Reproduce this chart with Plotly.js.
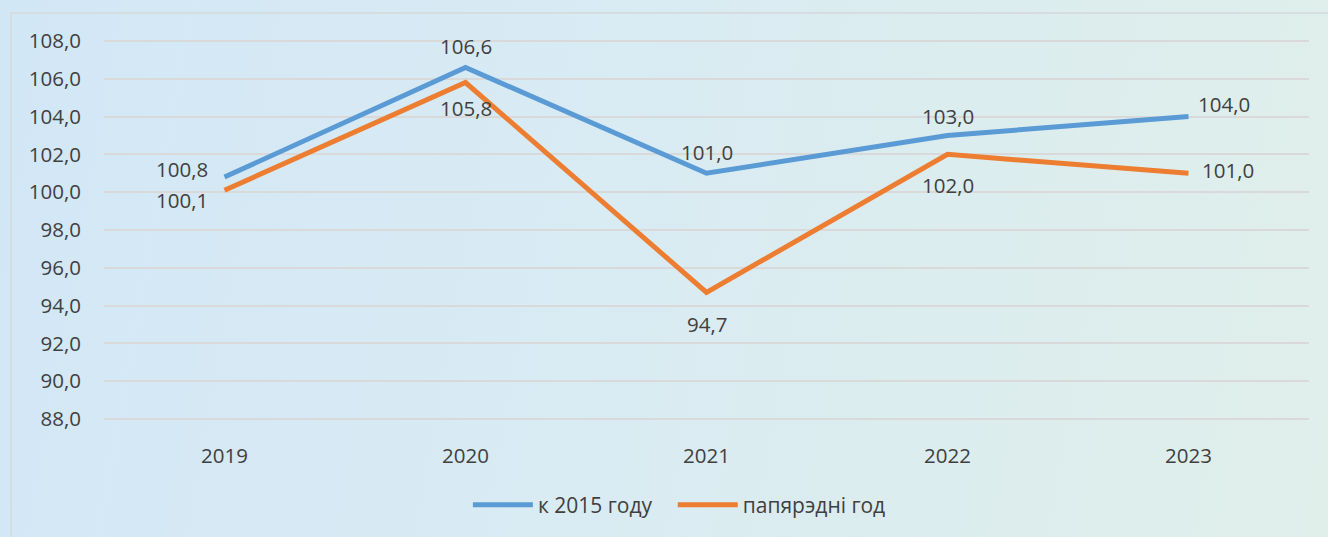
<!DOCTYPE html>
<html>
<head>
<meta charset="utf-8">
<script src="https://cdn.plot.ly/plotly-3.0.1.min.js"></script>
<style>
html,body{margin:0;padding:0;width:1328px;height:537px;overflow:hidden;}
body{background:linear-gradient(100deg,#d2e7f6 0%,#d9ebf3 45%,#e0efea 100%);}
#frame{position:absolute;left:10px;top:12px;width:1340px;height:560px;border:2px solid #d6dde0;box-sizing:border-box;}
#chart{position:absolute;left:0;top:0;width:1328px;height:537px;}
</style>
</head>
<body>
<div id="frame"></div>
<div id="chart"></div>
<script>
var years = ['2019','2020','2021','2022','2023'];
var seriesA = [100.8, 106.6, 101.0, 103.0, 104.0];
var seriesB = [100.1, 105.8, 94.7, 102.0, 101.0];
var nameA = 'к 2015 году';
var nameB = 'папярэдні год';
var yTicks = [88,90,92,94,96,98,100,102,104,106,108];

function fmt(v){ return v.toFixed(1).replace('.', ','); }

function mkFont(s){ return {family:'"Open Sans", sans-serif', size:s || 20.5, color:'#404040'}; }

var traces = [
  {x:years, y:seriesA, name:nameA, type:'scatter', mode:'lines', legend:'legend',
   line:{color:'#5b9bd5', width:5}, hoverinfo:'skip'},
  {x:years, y:seriesB, name:nameB, type:'scatter', mode:'lines', legend:'legend2',
   line:{color:'#ed7d31', width:5}, hoverinfo:'skip'}
];

// label placement offsets (pixels) for each point
var offA = [[-15,8,'right'],[0,21,'center'],[0,21,'center'],[0,19,'center'],[7,13,'left']];
var offB = [[-15,-10,'right'],[0,-25,'center'],[0,-32,'center'],[0,-31,'center'],[11,3,'left']];
var ann = [];
for (var i = 0; i < years.length; i++) {
  ann.push({x:i, y:seriesA[i], xref:'x', yref:'y', text:fmt(seriesA[i]), showarrow:false,
    xanchor:offA[i][2], yanchor:'middle', xshift:offA[i][0], yshift:offA[i][1], font:mkFont()});
  ann.push({x:i, y:seriesB[i], xref:'x', yref:'y', text:fmt(seriesB[i]), showarrow:false,
    xanchor:offB[i][2], yanchor:'middle', xshift:offB[i][0], yshift:offB[i][1], font:mkFont()});
}

var layout = {
  width:1328, height:537,
  margin:{l:104, r:19, t:39, b:113},
  paper_bgcolor:'rgba(0,0,0,0)', plot_bgcolor:'rgba(0,0,0,0)',
  font:mkFont(),
  xaxis:{type:'category', range:[-0.5,4.5], showgrid:false, zeroline:false, showline:false,
    ticks:'', tickfont:mkFont(), ticklabelstandoff:20, fixedrange:true},
  yaxis:{range:[87.9,108.1], tickvals:yTicks, ticktext:yTicks.map(fmt), showgrid:true,
    gridcolor:'#d9d9d9', gridwidth:1.5, zeroline:false, showline:false, ticks:'',
    tickfont:mkFont(), ticklabelstandoff:22, fixedrange:true},
  showlegend:true,
  legend:{orientation:'h', x:0.302, xanchor:'left', y:-0.22, yanchor:'middle',
    font:mkFont(21), bgcolor:'rgba(0,0,0,0)', itemwidth:60},
  legend2:{orientation:'h', x:0.472, xanchor:'left', y:-0.22, yanchor:'middle',
    font:mkFont(21), bgcolor:'rgba(0,0,0,0)', itemwidth:60},
  annotations:ann
};

Plotly.newPlot('chart', traces, layout, {displayModeBar:false});
</script>
</body>
</html>
